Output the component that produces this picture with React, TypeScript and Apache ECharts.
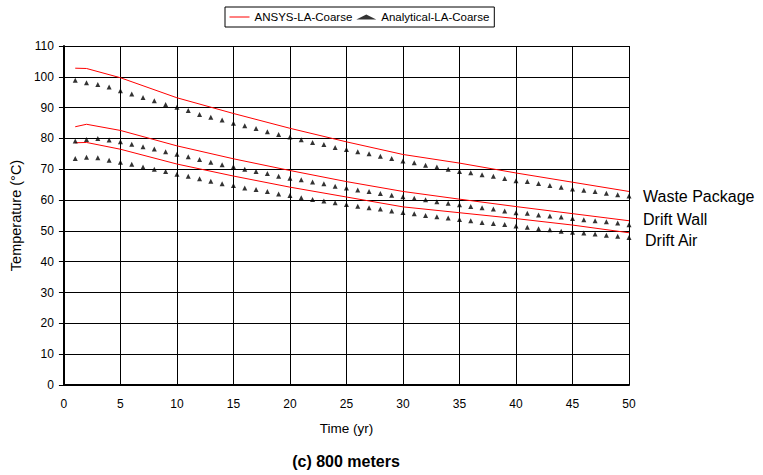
import React, { useEffect, useRef } from "react";
import * as echarts from "echarts";

const years = [
  1, 2, 3, 4, 5, 6, 7, 8, 9, 10, 11, 12, 13, 14, 15, 16, 17, 18, 19, 20, 21, 22, 23, 24, 25,
  26, 27, 28, 29, 30, 31, 32, 33, 34, 35, 36, 37, 38, 39, 40, 41, 42, 43, 44, 45, 46, 47, 48, 49, 50,
];

const wpAnalytical = [
  98.9, 98.1, 97.5, 96.7, 95.5, 94.4, 93.3, 92.2, 91.0, 90.1, 89.1, 87.8, 86.9,
  86.0, 84.9, 84.1, 83.2, 82.2, 81.3, 80.5, 79.6, 78.7, 78.0, 77.1, 76.4,
  75.7, 75.0, 74.2, 73.5, 72.7, 72.1, 71.3, 70.7, 70.0, 69.3, 68.9, 68.2,
  67.7, 67.0, 66.3, 66.0, 65.4, 64.7, 64.2, 63.6, 63.2, 62.8, 62.2, 61.7, 61.3,
];
const dwAnalytical = [
  79.2, 79.7, 80.0, 79.5, 78.9, 78.1, 77.3, 76.6, 75.7, 74.9, 74.1, 73.2, 72.3,
  71.5, 70.8, 70.0, 69.3, 68.6, 67.7, 67.1, 66.6, 65.9, 65.3, 64.5, 63.9,
  63.3, 62.8, 62.1, 61.6, 61.1, 60.6, 60.1, 59.5, 59.0, 58.5, 57.9, 57.5,
  57.1, 56.5, 55.9, 55.7, 55.2, 54.8, 54.5, 54.0, 53.6, 53.3, 53.0, 52.6, 52.0,
];
const daAnalytical = [
  73.5, 73.9, 73.7, 72.9, 72.3, 71.6, 70.7, 70.0, 69.3, 68.4, 67.7, 66.9, 66.1,
  65.3, 64.7, 63.9, 63.4, 62.8, 62.0, 61.5, 60.8, 60.2, 59.7, 59.1, 58.6,
  58.0, 57.5, 57.1, 56.5, 56.0, 55.6, 55.0, 54.6, 54.2, 53.7, 53.3, 52.7,
  52.4, 52.1, 51.6, 51.2, 50.7, 50.4, 49.9, 49.6, 49.3, 49.0, 48.6, 48.3, 47.9,
];

const ansysYears = [1, 2, 5, 10, 15, 20, 25, 30, 35, 40, 45, 50];
const wpAnsys = [102.8, 102.7, 99.7, 93.2, 88.1, 83.3, 78.9, 74.8, 72.0, 68.8, 65.8, 62.8];
const dwAnsys = [83.8, 84.6, 82.6, 77.6, 73.4, 69.6, 66.0, 62.8, 60.3, 57.9, 55.6, 53.3];
const daAnsys = [78.6, 78.7, 76.5, 71.7, 67.8, 64.2, 61.0, 57.8, 55.9, 54.0, 51.9, 49.4];

const curveLabels = ["Waste Package", "Drift Wall", "Drift Air"];
const ANSYS = "ANSYS-LA-Coarse";
const ANALYTICAL = "Analytical-LA-Coarse";
const FONT = "'Liberation Sans', Arial, sans-serif";

function zip(xs: number[], ys: number[]) {
  return xs.map((x, i) => [x, ys[i]]);
}

export default function App() {
  const ref = useRef<HTMLDivElement>(null);
  useEffect(() => {
    document.body.style.margin = "0";
    if (!ref.current) return;
    const chart = echarts.init(ref.current, undefined, { renderer: "svg" });
    const lineSeries = (data: number[]) => ({
      name: ANSYS,
      type: "line",
      data: zip(ansysYears, data),
      symbol: "none",
      showSymbol: false,
      lineStyle: { color: "#ff0000", width: 1 },
      itemStyle: { color: "#ff0000" },
      z: 3,
    });
    const scatterSeries = (data: number[]) => ({
      name: ANALYTICAL,
      type: "scatter",
      data: zip(years, data),
      symbol: "triangle",
      symbolSize: 5,
      itemStyle: { color: "#000" },
      z: 4,
    });
    const label = (text: string, x: number, y: number) => ({
      type: "text",
      x,
      y,
      style: { text, fontSize: 16, fill: "#000", fontFamily: FONT, verticalAlign: "middle" },
    });
    chart.setOption({
      animation: false,
      textStyle: { fontFamily: FONT },
      grid: { left: 63, right: 134, top: 46, bottom: 90, containLabel: false },
      legend: {
        left: 225,
        top: 7,
        data: [
          { name: ANSYS, itemStyle: { opacity: 0 }, lineStyle: { color: "#ff0000", width: 1 } },
          { name: ANALYTICAL },
        ],
        borderColor: "#000",
        borderWidth: 1,
        borderRadius: 0,
        padding: [4, 5, 4, 4],
        itemWidth: 20,
        itemHeight: 5,
        itemGap: 4,
        textStyle: { fontSize: 11.5, color: "#000", fontFamily: FONT },
      },
      xAxis: {
        type: "value",
        min: 0,
        max: 50,
        interval: 5,
        name: "Time (yr)",
        nameLocation: "middle",
        nameGap: 36,
        nameTextStyle: { fontSize: 13.5, color: "#000", fontFamily: FONT },
        axisLine: { show: true, onZero: false, lineStyle: { color: "#000", width: 2 } },
        axisTick: { show: false },
        axisLabel: { margin: 13, fontSize: 12, color: "#000", fontFamily: FONT },
        splitLine: { show: true, lineStyle: { color: "#000", width: 1 } },
      },
      yAxis: {
        type: "value",
        min: 0,
        max: 110,
        interval: 10,
        name: "Temperature (°C)",
        nameLocation: "middle",
        nameGap: 40,
        nameTextStyle: { fontSize: 14.5, color: "#000", fontFamily: FONT },
        axisLine: { show: true, onZero: false, lineStyle: { color: "#000", width: 2 } },
        axisTick: { show: true, length: 5, lineStyle: { color: "#000" } },
        axisLabel: { margin: 10, fontSize: 12, color: "#000", fontFamily: FONT },
        splitLine: { show: true, lineStyle: { color: "#000", width: 1 } },
      },
      graphic: [
        label(curveLabels[0], 643, 196),
        label(curveLabels[1], 643, 219),
        label(curveLabels[2], 645, 240),
        {
          type: "text",
          x: 346,
          y: 461,
          style: {
            text: "(c) 800 meters",
            fontSize: 16,
            fontWeight: "bold",
            fill: "#000",
            fontFamily: FONT,
            align: "center",
            verticalAlign: "middle",
          },
        },
      ],
      series: [
        lineSeries(wpAnsys),
        lineSeries(dwAnsys),
        lineSeries(daAnsys),
        scatterSeries(wpAnalytical),
        scatterSeries(dwAnalytical),
        scatterSeries(daAnalytical),
      ],
    });
    return () => chart.dispose();
  }, []);
  return <div ref={ref} style={{ width: 763, height: 475 }} />;
}
